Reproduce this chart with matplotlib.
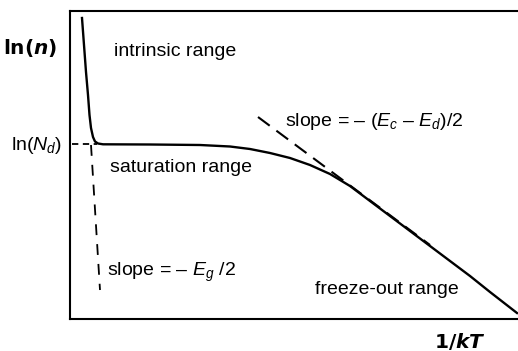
import matplotlib.pyplot as plt

plt.rcParams['font.family'] = ['Liberation Sans', 'DejaVu Sans']
plt.rcParams['mathtext.fontset'] = 'custom'
plt.rcParams['mathtext.rm'] = 'Liberation Sans'
plt.rcParams['mathtext.it'] = 'Liberation Sans:italic'
plt.rcParams['mathtext.bf'] = 'DejaVu Sans:bold'
plt.rcParams['mathtext.bfit'] = 'DejaVu Sans:bold:italic'

# schematic ln(n) vs 1/kT, arbitrary units (x right, y up)
curve_x = [12, 14, 16, 18, 19.5, 21, 23, 25, 28, 33, 80, 130, 160, 180,
           200, 220, 240, 260, 280, 300, 320, 340, 360, 380, 400, 420, 447]
curve_y = [301, 274, 247, 224, 204, 191, 182, 177.5, 175.5, 174.7, 174.5,
           174, 172.5, 170, 166, 161, 154, 145, 133, 118, 103, 88, 73, 58,
           43, 27, 6]

nd_x = [2, 27]
nd_y = [174.7, 174.7]

eg_x = [21, 30]
eg_y = [174, 29]

ecd_x = [188, 360]
ecd_y = [202, 74]


def main():
    fig = plt.figure(figsize=(5.18, 3.51), dpi=100)
    ax = fig.add_axes([70 / 518, 32 / 351, 452 / 518, 308 / 351])
    ax.set_xlim(0, 452)
    ax.set_ylim(0, 308)
    ax.set_xticks([])
    ax.set_yticks([])
    for side in ['left', 'bottom', 'top']:
        ax.spines[side].set_linewidth(1.5)
    ax.spines['right'].set_visible(False)

    ax.plot(curve_x, curve_y, color='black', lw=1.7, solid_joinstyle='round')
    ax.plot(nd_x, nd_y, color='black', lw=1.3, dashes=(3.5, 2.5))
    ax.plot(eg_x, eg_y, color='black', lw=1.3, dashes=(6, 5))
    ax.plot(ecd_x, ecd_y, color='black', lw=1.5, dashes=(7, 4))

    fs = 14
    ax.text(44, 267, 'intrinsic range', fontsize=fs, va='center')
    ax.text(40, 151, 'saturation range', fontsize=fs, va='center')
    ax.text(215, 198, r'slope = – ($E_c$ – $E_d$)/2', fontsize=fs, va='center')
    ax.text(37, 47, r'slope = – $E_g$ /2', fontsize=fs, va='center')
    ax.text(245, 30, 'freeze-out range', fontsize=fs, va='center')

    fig.text(3 / 518, 1 - 48 / 351, r'$\mathbf{ln(}\boldsymbol{n}\mathbf{)}$',
             fontsize=14.5, va='center', ha='left')
    fig.text(62 / 518, 1 - 146 / 351, r'ln($N_d$)', fontsize=fs,
             va='center', ha='right')
    fig.text(460 / 518, 1 - 341 / 351, r'$\mathbf{1/}\boldsymbol{kT}$',
             fontsize=14.5, va='center', ha='center')

    fig.savefig('out.png', dpi=100)


if __name__ == '__main__':
    main()
